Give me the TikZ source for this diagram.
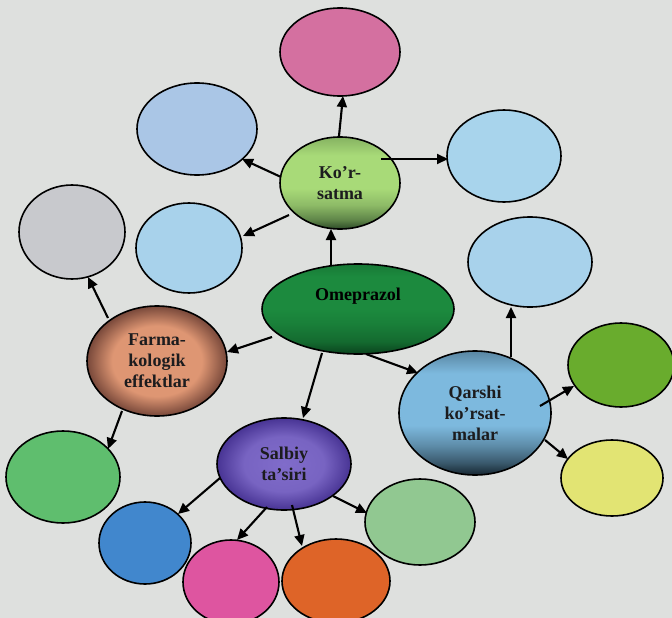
\documentclass[tikz,border=0pt]{standalone}
\usepackage{fontspec}
\setmainfont{Liberation Serif}
\usetikzlibrary{shapes.geometric,arrows.meta,calc}
\definecolor{bg}{RGB}{222,224,222}
\definecolor{cpinkT}{RGB}{212,112,160}
\definecolor{cblTL}{RGB}{170,198,230}
\definecolor{cblR}{RGB}{168,212,236}
\definecolor{cblML}{RGB}{168,210,235}
\definecolor{cgrey}{RGB}{200,201,205}
\definecolor{cblRM}{RGB}{168,210,235}
\definecolor{cgrR}{RGB}{105,172,45}
\definecolor{cyel}{RGB}{226,228,115}
\definecolor{cgrBL}{RGB}{95,190,110}
\definecolor{cblue}{RGB}{65,135,205}
\definecolor{cpinkB}{RGB}{222,85,160}
\definecolor{corng}{RGB}{222,100,40}
\definecolor{clgBR}{RGB}{145,200,145}
\definecolor{korlt}{RGB}{168,218,120}
\definecolor{kordk}{RGB}{45,75,40}
\definecolor{omlt}{RGB}{28,138,62}
\definecolor{omdk}{RGB}{10,68,30}
\definecolor{fmlt}{RGB}{222,150,115}
\definecolor{fmdk}{RGB}{120,72,58}
\definecolor{qlt}{RGB}{125,185,222}
\definecolor{qdk}{RGB}{22,38,48}
\definecolor{sblt}{RGB}{128,108,202}
\definecolor{sbdk}{RGB}{72,52,148}
\definecolor{txt}{RGB}{28,28,30}
\pgfdeclareverticalshading{korsh}{100bp}{color(0bp)=(kordk); color(25bp)=(kordk); color(30bp)=(korlt!40!kordk); color(38bp)=(korlt!78!kordk); color(47bp)=(korlt); color(65bp)=(korlt); color(75bp)=(korlt!72!kordk); color(100bp)=(korlt!72!kordk)}
\pgfdeclareverticalshading{omsh}{100bp}{color(0bp)=(omdk); color(25bp)=(omdk); color(32bp)=(omlt!55!omdk); color(42bp)=(omlt!85!omdk); color(50bp)=(omlt); color(68bp)=(omlt); color(75bp)=(omlt!75!omdk); color(100bp)=(omlt!75!omdk)}
\pgfdeclareverticalshading{qsh}{100bp}{color(0bp)=(qdk); color(25bp)=(qdk); color(30bp)=(qlt!35!qdk); color(37bp)=(qlt!70!qdk); color(45bp)=(qlt); color(66bp)=(qlt); color(75bp)=(qlt!65!qdk); color(100bp)=(qlt!65!qdk)}
\pgfdeclareradialshading{fmsh}{\pgfpoint{0bp}{0bp}}{color(0bp)=(fmlt); color(16bp)=(fmlt); color(25bp)=(fmdk); color(50bp)=(fmdk)}
\pgfdeclareradialshading{sbsh}{\pgfpoint{0bp}{0bp}}{color(0bp)=(sblt); color(15bp)=(sblt!85!sbdk); color(25bp)=(sbdk); color(50bp)=(sbdk)}
\tikzset{
  oval/.style={ellipse, draw=black, line width=1.6pt, inner sep=0pt, align=center,
    text=txt, font=\bfseries\fontsize{18}{21}\selectfont},
  arr/.style={line width=2.1pt, -{Triangle[length=11pt,width=10pt]}},
}
\newcommand{\ov}[6]{\node[oval, minimum width=#4pt, minimum height=#5pt, #6] (#1) at (#2,#3)}
\begin{document}
\begin{tikzpicture}[x=1pt,y=-1pt]
\fill[bg] (0,0) rectangle (672,618);
\useasboundingbox (0,0) rectangle (672,618);
\ov{pinkT}{340}{52}{120}{88}{fill=cpinkT} {};
\ov{blTL}{197}{129}{120}{92}{fill=cblTL} {};
\ov{kor}{340}{183}{120}{92}{shading=korsh} {Ko’r-\\satma};
\ov{blR}{504}{156}{114}{92}{fill=cblR} {};
\ov{blML}{189}{248}{106}{90}{fill=cblML} {};
\ov{grey}{72}{232}{106}{94}{fill=cgrey} {};
\ov{blRM}{530}{262}{124}{90}{fill=cblRM} {};
\ov{omep}{358}{309}{192}{90}{shading=omsh, text=black} {\raisebox{9pt}[0pt][0pt]{Omeprazol}};
\ov{farm}{157}{361}{140}{110}{shading=fmsh} {Farma-\\kologik\\effektlar};
\ov{qar}{475}{413}{152}{124}{shading=qsh} {Qarshi\\ko’rsat-\\malar};
\ov{grR}{621}{365}{106}{84}{fill=cgrR} {};
\ov{yel}{612}{478}{102}{76}{fill=cyel} {};
\ov{salb}{284}{464}{134}{92}{shading=sbsh} {Salbiy\\ta’siri};
\ov{grBL}{63}{477}{114}{92}{fill=cgrBL} {};
\ov{blue}{145}{543}{92}{82}{fill=cblue} {};
\ov{pinkB}{231}{582}{96}{84}{fill=cpinkB} {};
\ov{orng}{336}{581}{108}{84}{fill=corng} {};
\ov{lgBR}{420}{522}{110}{86}{fill=clgBR} {};
\draw[arr] ($(kor)+(-1,-47)$) -- ($(pinkT)+(3,44)$);
\draw[arr] ($(kor)+(-59,-6)$) -- ($(blTL)+(45,30)$);
\draw[arr] ($(kor)+(41,-24)$) -- ($(blR)+(-56,3)$);
\draw[arr] ($(kor)+(-51,32)$) -- ($(blML)+(54,-12)$);
\draw[arr] ($(omep)+(-27,-44)$) -- ($(kor)+(-9,46)$);
\draw[arr] ($(farm)+(-49,-43)$) -- ($(grey)+(16,45)$);
\draw[arr] ($(omep)+(-86,28)$) -- ($(farm)+(70,-9)$);
\draw[arr] ($(farm)+(-35,50)$) -- ($(grBL)+(45,-28)$);
\draw[arr] ($(omep)+(-36,44)$) -- ($(salb)+(19,-46)$);
\draw[arr] ($(omep)+(8,45)$) -- ($(qar)+(-57,-40)$);
\draw[arr] ($(qar)+(36,-56)$) -- ($(blRM)+(-19,45)$);
\draw[arr] ($(qar)+(65,-7)$) -- ($(grR)+(-47,21)$);
\draw[arr] ($(qar)+(70,27)$) -- ($(yel)+(-44,-19)$);
\draw[arr] ($(salb)+(-64,14)$) -- ($(blue)+(33,-29)$);
\draw[arr] ($(salb)+(-17,43)$) -- ($(pinkB)+(6,-42)$);
\draw[arr] ($(salb)+(8,41)$) -- ($(orng)+(-34,-35)$);
\draw[arr] ($(salb)+(49,32)$) -- ($(lgBR)+(-53,-9)$);
\end{tikzpicture}
\end{document}
